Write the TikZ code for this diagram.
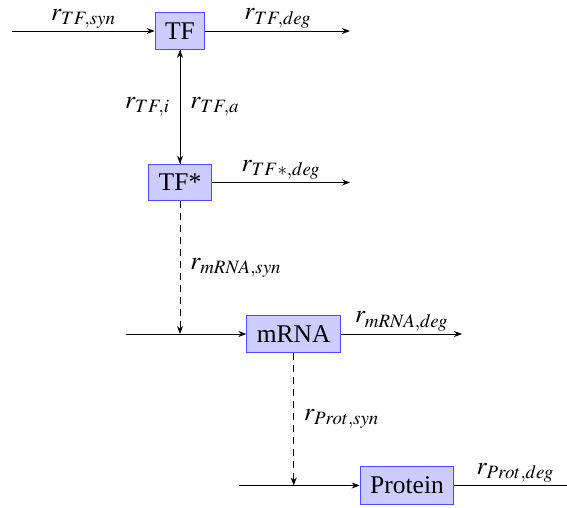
\documentclass[tikz,border=0pt]{standalone}
\usepackage{mathptmx}
\usepackage[no-math]{fontspec}
\setmainfont{Liberation Serif}
\usetikzlibrary{arrows.meta}
\begin{document}
\begin{tikzpicture}[x=1pt,y=-1pt,
  every node/.style={font=\fontsize{25.5}{30}\selectfont, inner sep=10pt},
  species/.style={draw=blue!70, fill=blue!20, line width=1pt},
  arr/.style={line width=0.9pt, -{Stealth[length=8pt,width=6pt]}},
  dsh/.style={dash pattern=on 7pt off 5pt},
  rate/.style={above, inner sep=2pt, yshift=0.5pt}]
\useasboundingbox (0,0) rectangle (567,508);
% species
\node[species] (TF)   at (180,31)    {TF};
\node[species] (TFs)  at (180,182.5) {TF*};
\node[species] (mRNA) at (293.7,334) {mRNA};
\node[species] (Prot) at (407,485.5) {Protein};
% free ends
\coordinate (inTF)   at (12,31);
\coordinate (outTF)  at (350,31);
\coordinate (outTFs) at (350,182.5);
\coordinate (inM)    at (125.5,334);
\coordinate (outM)   at (462,334);
\coordinate (inP)    at (238.5,485.5);
\coordinate (outP)   at (576,485.5);
\coordinate (jM) at (TFs |- mRNA);
\coordinate (jP) at (mRNA |- Prot);
% reactions
\draw[arr] (inTF) -- node[rate]{$r_{TF,syn}$} (TF);
\draw[arr] (TF) -- node[rate]{$r_{TF,deg}$} (outTF);
\draw[arr] (TF) -- node[right]{$r_{TF,a}$} (TFs);
\draw[arr] (TFs) -- node[left]{$r_{TF,i}$} (TF);
\draw[arr] (TFs) -- node[rate]{$r_{TF*,deg}$} (outTFs);
\draw[arr,dsh] (TFs) -- node[right]{$r_{mRNA,syn}$} (jM);
\draw[arr] (inM) -- (mRNA);
\draw[arr] (mRNA) -- node[rate]{$r_{mRNA,deg}$} (outM);
\draw[arr,dsh] (mRNA) -- node[right]{$r_{Prot,syn}$} (jP);
\draw[arr] (inP) -- (Prot);
\draw[arr] (Prot) -- node[rate]{$r_{Prot,deg}$} (outP);
\end{tikzpicture}
\end{document}
